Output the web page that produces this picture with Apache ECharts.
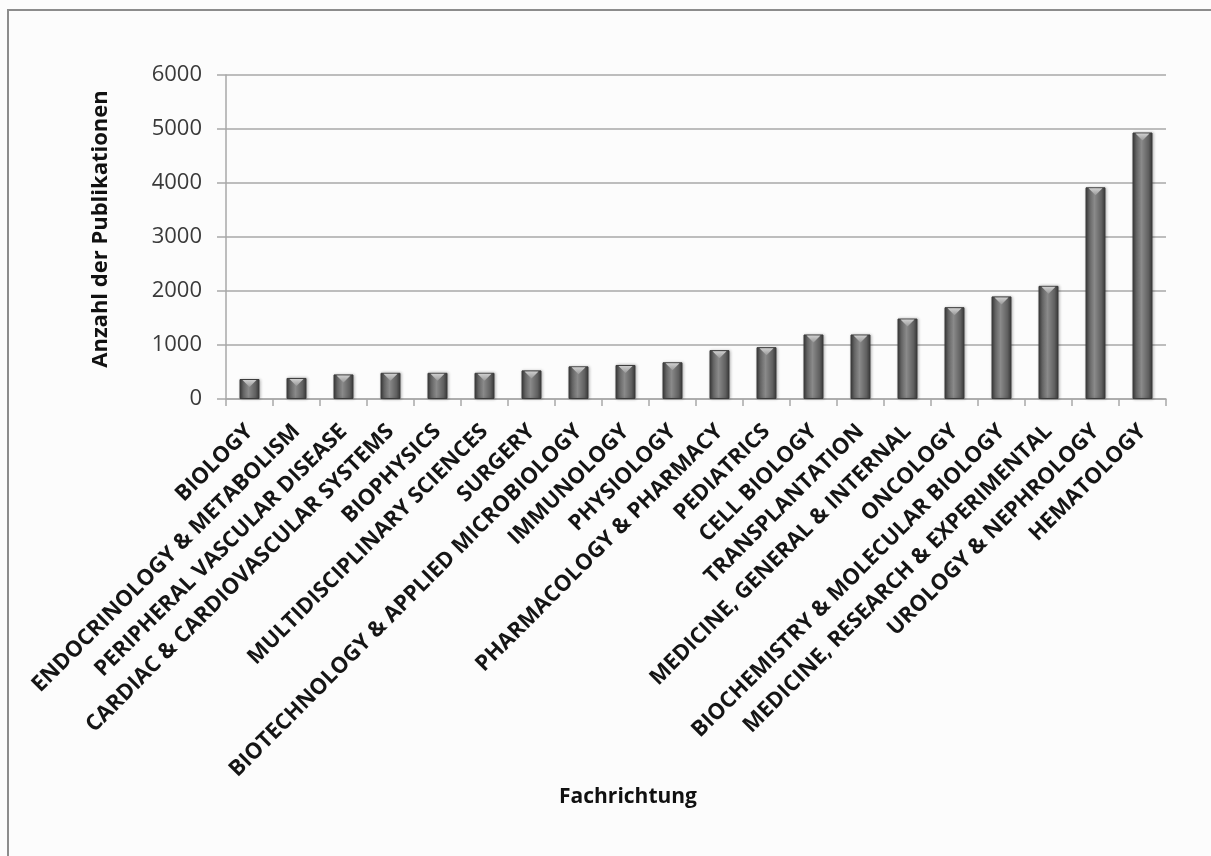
<!DOCTYPE html>
<html>
<head>
<meta charset="utf-8">
<script src="https://cdn.jsdelivr.net/npm/echarts@6/dist/echarts.min.js"></script>
<style>
  html, body { margin: 0; padding: 0; background: #fcfcfc; }
  #chart { width: 1211px; height: 856px; }
</style>
</head>
<body>
<div id="chart"></div>
<script>
// Publications per research field (Web of Science categories)
const categories = [
  'BIOLOGY',
  'ENDOCRINOLOGY & METABOLISM',
  'PERIPHERAL VASCULAR DISEASE',
  'CARDIAC & CARDIOVASCULAR SYSTEMS',
  'BIOPHYSICS',
  'MULTIDISCIPLINARY SCIENCES',
  'SURGERY',
  'BIOTECHNOLOGY & APPLIED MICROBIOLOGY',
  'IMMUNOLOGY',
  'PHYSIOLOGY',
  'PHARMACOLOGY & PHARMACY',
  'PEDIATRICS',
  'CELL BIOLOGY',
  'TRANSPLANTATION',
  'MEDICINE, GENERAL & INTERNAL',
  'ONCOLOGY',
  'BIOCHEMISTRY & MOLECULAR BIOLOGY',
  'MEDICINE, RESEARCH & EXPERIMENTAL',
  'UROLOGY & NEPHROLOGY',
  'HEMATOLOGY'
];
const publications = [
  370, 390, 455, 485, 485, 485, 530, 605, 630, 680,
  905, 960, 1195, 1195, 1490, 1700, 1900, 2095, 3920, 4935
];
const yMin = 0;
const yMax = 6000;
const yStep = 1000;
const xTitle = 'Fachrichtung';
const yTitle = 'Anzahl der Publikationen';

const FONT = '"Open Sans", "Noto Sans", sans-serif';
const chart = echarts.init(document.getElementById('chart'), null, { renderer: 'canvas' });

chart.setOption({
  backgroundColor: '#fcfcfc',
  animation: false,
  graphic: [{
    type: 'rect',
    silent: true,
    shape: { x: 8, y: 10, width: 1400, height: 1000 },
    style: { fill: 'none', stroke: '#8c8c8c', lineWidth: 2 }
  }],
  grid: { left: 226, right: 45, top: 75, bottom: 457, containLabel: false },
  xAxis: {
    type: 'category',
    data: categories,
    name: xTitle,
    nameLocation: 'middle',
    nameGap: 388,
    nameTextStyle: {
      fontFamily: FONT, fontSize: 21, fontWeight: 'bold', color: '#111',
      padding: [0, 136, 0, 0]
    },
    axisLine: { show: true, lineStyle: { color: '#a8a8a8', width: 1.5 } },
    axisTick: { show: true, length: 7, lineStyle: { color: '#a8a8a8', width: 1.5 } },
    axisLabel: {
      interval: 0,
      rotate: 45,
      margin: 29,
      fontFamily: FONT, fontSize: 22, fontWeight: 'bold', color: '#151515'
    },
    splitLine: { show: false }
  },
  yAxis: {
    type: 'value',
    min: yMin,
    max: yMax,
    interval: yStep,
    name: yTitle,
    nameLocation: 'middle',
    nameGap: 114,
    nameRotate: 90,
    nameTextStyle: {
      fontFamily: FONT, fontSize: 22, fontWeight: 'bold', color: '#111',
      padding: [0, 0, 0, 16]
    },
    axisLine: { show: true, lineStyle: { color: '#a8a8a8', width: 1.5 } },
    axisTick: { show: true, length: 9, lineStyle: { color: '#a8a8a8', width: 1.5 } },
    axisLabel: {
      margin: 24,
      formatter: (v) => String(v),
      fontFamily: FONT, fontSize: 22, color: '#3a3a3a'
    },
    splitLine: { show: true, lineStyle: { color: '#a8a8a8', width: 1.5 } }
  },
  series: [
    {
      // cylinder-shaded columns
      type: 'bar',
      data: publications,
      barWidth: 20,
      itemStyle: {
        color: new echarts.graphic.LinearGradient(0, 0, 1, 0, [
          { offset: 0, color: '#3a3a3a' },
          { offset: 0.18, color: '#636363' },
          { offset: 0.45, color: '#8a8a8a' },
          { offset: 0.8, color: '#606060' },
          { offset: 1, color: '#383838' }
        ]),
        borderColor: '#3c3c3c',
        borderWidth: 1,
        shadowBlur: 3,
        shadowColor: 'rgba(0,0,0,0.25)',
        shadowOffsetX: 1
      },
      z: 2
    },
    {
      // bevelled top of each column
      type: 'pictorialBar',
      data: publications,
      symbol: 'path://M0,0 L10,0 L5,5 Z',
      symbolSize: [14, 7],
      symbolPosition: 'end',
      symbolOffset: [0, 1],
      itemStyle: {
        color: new echarts.graphic.LinearGradient(0, 0, 0, 1, [
          { offset: 0, color: '#cfcfcf' },
          { offset: 1, color: '#9a9a9a' }
        ])
      },
      silent: true,
      z: 3
    }
  ]
});
</script>
</body>
</html>
